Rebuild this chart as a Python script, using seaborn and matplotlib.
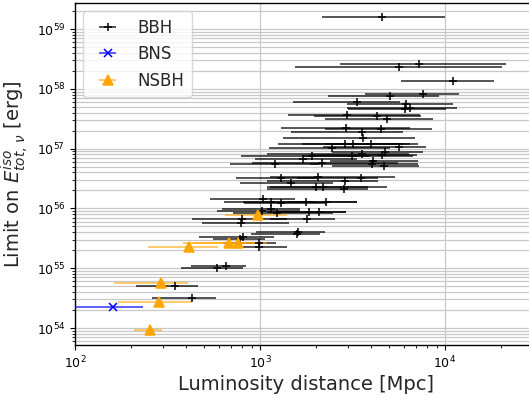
import numpy as np
import matplotlib
matplotlib.use("Agg")
import matplotlib.pyplot as plt
import seaborn as sns
from matplotlib.colors import to_rgba

# ---- data (luminosity distance [Mpc], lower/upper bound, energy limit [erg]) ----
bbh_d = [4580, 5640, 7210, 11090, 5045, 7570, 3333, 6150, 6080, 6470,
         2965, 4305, 4876, 2917, 4490, 3573, 3615, 2880, 3194, 3981,
         2441, 5640, 4720, 3548, 1903, 3133, 4548, 1714, 4095, 2172,
         1205, 4046, 4677, 1294, 2066, 3500, 2880, 1471, 2009, 2198,
         2856, 1032, 1151, 1294, 1766, 2274, 1146, 1021, 1231, 1847,
         2093, 796, 1788, 789, 1599, 1579, 806, 779, 988, 989,
         653, 588, 347, 427]
bbh_lo = [2163, 1546, 2706, 5780, 2332, 3697, 1508, 2953, 2990, 2953,
          1417, 1958, 2246, 1299, 2246, 1471, 1331, 1251, 1687, 2246,
          1118, 2191, 2450, 1091, 789, 1708, 1863, 940, 2390, 905,
          689, 1863, 2450, 742, 1132, 1585, 1091, 779, 1091, 1132,
          1091, 537, 639, 820, 809, 1400, 623, 586, 714, 1091,
          1236, 429, 1132, 486, 951, 894, 468, 557, 631, 639,
          424, 374, 214, 261]
bbh_hi = [10000, 20320, 21370, 18400, 9280, 11900, 5710, 11050, 10120, 11610,
          7330, 7420, 8610, 6470, 8510, 5930, 6885, 6470, 5930, 7145,
          5045, 7890, 7600, 6390, 3933, 6714, 7060, 3343, 7145, 5570,
          2084, 7145, 7230, 2060, 5370, 4345, 4345, 2482, 3837, 4857,
          3837, 1546, 1983, 2302, 3343, 3343, 1644, 1644, 2482, 2917,
          2917, 1400, 2543, 1435, 2246, 2110, 1191, 1064, 1220, 1400,
          840, 809, 462, 578]
bbh_e = [1.61e59, 2.34e58, 2.57e58, 1.33e58, 7.6e57, 8.1e57, 6.08e57, 5.5e57, 4.59e57, 4.83e57,
         3.65e57, 3.55e57, 3.13e57, 2.23e57, 2.13e57, 1.88e57, 1.52e57, 1.19e57, 1.19e57, 1.19e57,
         1.03e57, 1.06e57, 8.77e56, 8.13e56, 7.6e56, 7.5e56, 7.73e56, 6.62e56, 6.21e56, 5.81e56,
         5.52e56, 5.52e56, 5.12e56, 3.18e56, 3.39e56, 3.18e56, 2.9e56, 2.66e56, 2.25e56, 2.31e56,
         2.13e56, 1.45e56, 1.26e56, 1.25e56, 1.28e56, 1.29e56, 9.66e55, 9.16e55, 8.28e55, 8.81e55,
         8.6e55, 6.58e55, 6.58e55, 5.64e55, 4.07e55, 3.69e55, 3.29e55, 3.04e55, 2.67e55, 2.24e55,
         1.1e55, 9.96e54, 5.04e54, 3.14e54]

bns_d = [160]
bns_lo = [80]
bns_hi = [232]
bns_e = [2.24e54]

nsbh_d = [972, 682, 764, 413, 291, 283, 253]
nsbh_lo = [647, 384, 434, 247, 162, 170, 209]
nsbh_hi = [1400, 1091, 963, 593, 408, 427, 294]
nsbh_e = [7.76e55, 2.61e55, 2.61e55, 2.24e55, 5.73e54, 2.72e54, 9.44e53]

categories = ["BBH", "BNS", "NSBH"]

sns.set_theme(style="ticks")
plt.rcParams["font.family"] = ["DejaVu Sans"]
plt.rcParams["mathtext.fontset"] = "dejavusans"

fig = plt.figure(figsize=(5.29, 3.99), dpi=100)
ax = fig.add_axes([75 / 529, 54 / 399, 462.5 / 529, 342 / 399])

series = [
    (bbh_d, bbh_lo, bbh_hi, bbh_e, "+", "black", 6, 0.85),
    (bns_d, bns_lo, bns_hi, bns_e, "x", "blue", 6, 0.8),
    (nsbh_d, nsbh_lo, nsbh_hi, nsbh_e, "^", "orange", 7, 0.75),
]
for (d, lo, hi, e, mk, col, ms, al), lab in zip(series, categories):
    d = np.asarray(d, float)
    xerr = np.vstack([d - np.asarray(lo, float), np.asarray(hi, float) - d])
    ax.errorbar(d, e, xerr=xerr, fmt=mk, color=col, ms=ms, mew=1.1,
                ecolor=to_rgba(col, al), elinewidth=1.1, label=lab, zorder=3)

ax.set_xscale("log")
ax.set_yscale("log")
ax.set_xlim(100, 10 ** 4.5)
ax.set_ylim(10 ** 53.716, 10 ** 59.435)

ax.grid(True, which="major", axis="both", color="#c8c8c8", linewidth=0.9)
ax.grid(True, which="minor", axis="y", color="#c8c8c8", linewidth=0.9)
ax.set_axisbelow(True)
for s in ax.spines.values():
    s.set_color("black")
    s.set_linewidth(1.0)
ax.tick_params(which="both", direction="out", colors="black", labelsize=9)
ax.tick_params(which="major", length=3.5, width=0.8)
ax.tick_params(which="minor", length=2, width=0.6)

ax.set_xlabel("Luminosity distance [Mpc]", fontsize=14, labelpad=3)
ax.set_ylabel(r"Limit on $E^{iso}_{tot,\,\nu}$ [erg]", fontsize=14)

leg = ax.legend(loc="upper left", fontsize=12, frameon=True, borderpad=0.45)
leg.get_frame().set_edgecolor("#d0d0d0")

fig.savefig("out.png", dpi=100)
